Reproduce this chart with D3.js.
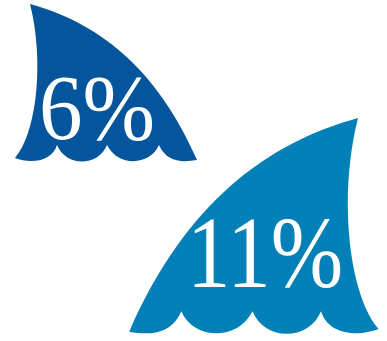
<!DOCTYPE html>
<html>
<head>
<meta charset="utf-8">
<script src="https://cdn.jsdelivr.net/npm/d3@7"></script>
<style>
html,body{margin:0;padding:0;background:#fff;}
svg{display:block;}
text{font-family:"Liberation Serif",serif;fill:#fff;}
</style>
</head>
<body>
<svg id="chart" width="387" height="341"></svg>
<script>
// Percentages shown on the two fins
const values = [6, 11];
const labels = ["6%", "11%"];
const fills = ["#04559c", "#0480b8"];
// Mirror direction of each fin: the first leans left, the second right
const facing = [1, -1];

// Fin size grows with the value
const finScale = d3.scaleLinear().domain([6, 11]).range([1, 1.37]);
const tipX = d3.scaleOrdinal().domain(values).range([30, 358]);
const tipY = d3.scaleOrdinal().domain(values).range([4, 118]);
const labelX = d3.scaleOrdinal().domain(values).range([39, 187]);
const labelY = d3.scaleOrdinal().domain(values).range([139, 287]);
const fontSize = d3.scaleOrdinal().domain(values).range([94, 101]);
const labelWidth = d3.scaleOrdinal().domain(values).range([116, 156]);

// Fin outline, relative to its tip, at the size of the smallest value
function finPath(ctx) {
  ctx.moveTo(0, 0);
  // leading edge sweeping down to the far corner
  ctx.bezierCurveTo(66, 18, 126, 62, 167, 156);
  // wave scallops along the base, with cusps pointing up
  ctx.bezierCurveTo(150, 159, 136, 157, 129, 141);
  ctx.bezierCurveTo(120, 162, 88, 163, 77, 141);
  ctx.bezierCurveTo(68, 163, 36, 163, 27, 141);
  ctx.bezierCurveTo(22, 158, 0, 160, -15, 154);
  // trailing edge with its inward curve
  ctx.bezierCurveTo(6, 130, 15, 60, 0, 0);
  ctx.closePath();
  return ctx;
}

const svg = d3.select("#chart");

const fins = svg.selectAll("g.fin")
  .data(values)
  .join("g")
  .attr("class", "fin");

fins.append("path")
  .attr("d", finPath(d3.path()).toString())
  .attr("fill", (d, i) => fills[i])
  .attr("transform", (d, i) =>
    `translate(${tipX(d)},${tipY(d)}) scale(${facing[i] * finScale(d)},${finScale(d)})`);

fins.append("text")
  .attr("x", d => labelX(d))
  .attr("y", d => labelY(d))
  .attr("font-size", d => fontSize(d))
  .attr("textLength", d => labelWidth(d))
  .attr("lengthAdjust", "spacingAndGlyphs")
  .text((d, i) => labels[i]);
</script>
</body>
</html>
